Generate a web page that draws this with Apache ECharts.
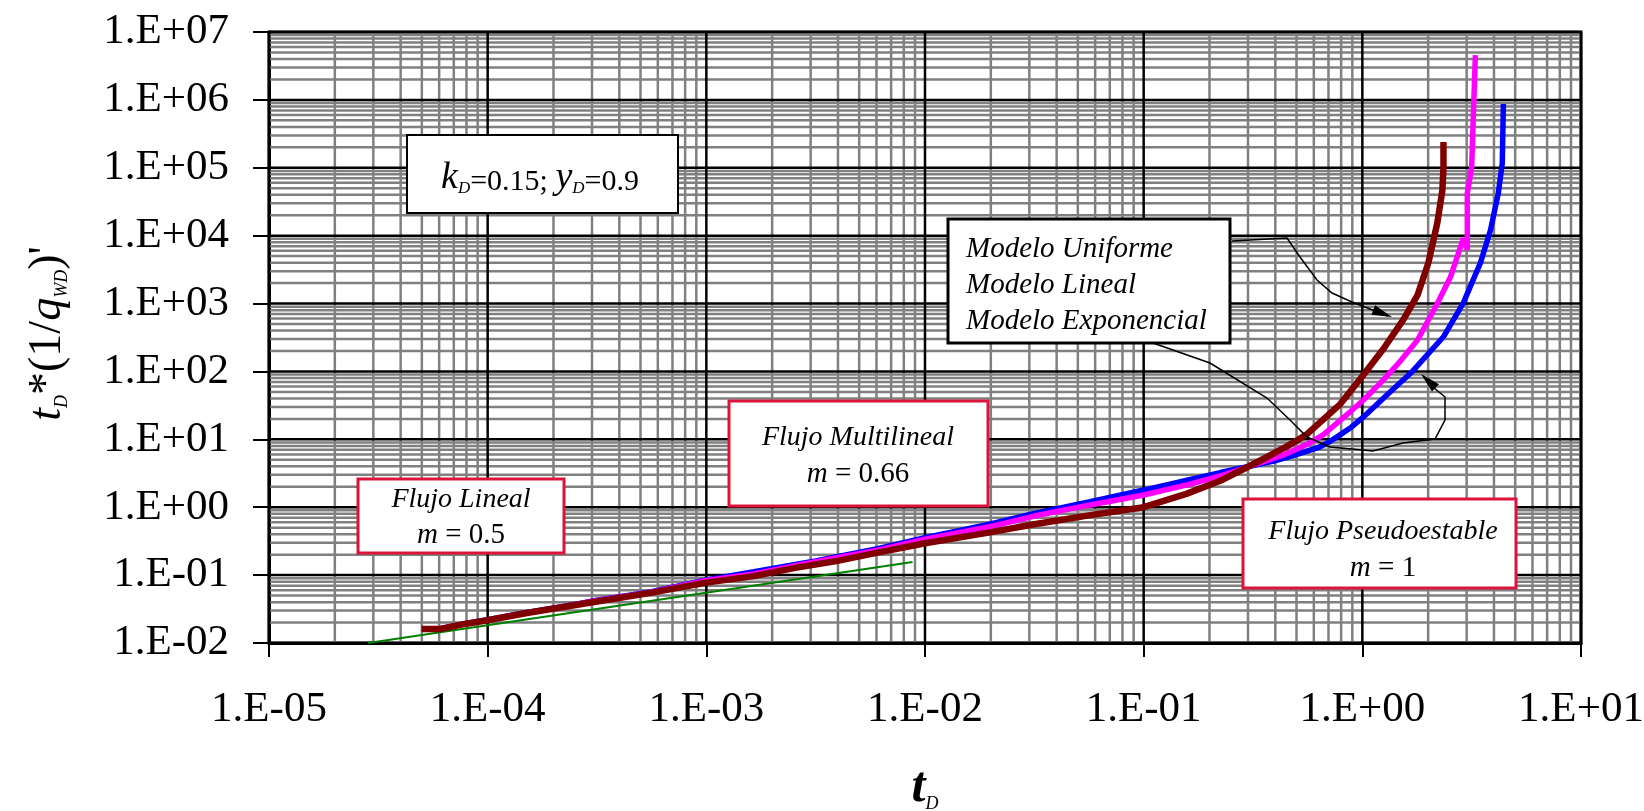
<!DOCTYPE html>
<html>
<head>
<meta charset="utf-8">
<script src="https://cdn.jsdelivr.net/npm/echarts@6/dist/echarts.min.js"></script>
<style>
  html, body { margin: 0; padding: 0; background: #ffffff; }
  #chart { width: 1644px; height: 811px; }
</style>
</head>
<body>
<div id="chart"></div>
<script>
// Tick labels of the two logarithmic axes
const xTickLabels = ['1.E-05', '1.E-04', '1.E-03', '1.E-02', '1.E-01', '1.E+00', '1.E+01'];
const yTickLabels = ['1.E-02', '1.E-01', '1.E+00', '1.E+01', '1.E+02', '1.E+03', '1.E+04', '1.E+05', '1.E+06', '1.E+07'];

// Legend / model names
const modelNames = ['Modelo Uniforme', 'Modelo Lineal', 'Modelo Exponencial'];

// t_D versus t_D*(1/q_WD)' for each permeability model
const uniforme = [
  [4.99e-5, 0.0161], [6.07e-5, 0.0161], [7.87e-5, 0.0191], [1.0e-4, 0.0216],
  [1.51e-4, 0.0277], [2.33e-4, 0.0348], [3.61e-4, 0.0437], [5.56e-4, 0.0548],
  [1.0e-3, 0.0775], [1.65e-3, 0.0966], [2.55e-3, 0.128], [3.93e-3, 0.161],
  [6.07e-3, 0.214], [1.0e-2, 0.295], [1.95e-2, 0.423], [3.16e-2, 0.562],
  [5.62e-2, 0.759], [0.1, 1.0], [0.158, 1.585], [0.224, 2.455],
  [0.302, 3.981], [0.367, 5.495], [0.454, 7.943], [0.513, 10.0],
  [0.56, 12.02], [0.793, 33.1], [1.0, 85.1], [1.247, 213.8],
  [1.538, 575.4], [1.786, 1318], [2.005, 3981], [2.203, 15490],
  [2.323, 46770], [2.35, 100000], [2.35, 239900]
];

const lineal = [
  [4.99e-5, 0.0161], [6.07e-5, 0.0162], [7.87e-5, 0.0191], [1.0e-4, 0.0219],
  [1.51e-4, 0.0279], [2.33e-4, 0.0351], [3.16e-4, 0.0422], [5.56e-4, 0.0557],
  [1.0e-3, 0.0832], [1.65e-3, 0.104], [3.16e-3, 0.158], [6.07e-3, 0.232],
  [1.0e-2, 0.339], [1.95e-2, 0.51], [3.16e-2, 0.741], [5.62e-2, 1.072],
  [0.1, 1.514], [0.158, 2.138], [0.224, 2.884], [0.302, 3.981],
  [0.355, 4.677], [0.436, 5.888], [0.562, 8.511], [0.664, 11.75],
  [0.891, 26.3], [1.012, 38.0], [1.202, 66.1], [1.445, 125.9],
  [1.786, 288.4], [2.203, 1000], [2.529, 2455], [2.897, 9120],
  [3.02, 6166], [3.02, 42660], [3.162, 100000], [3.236, 1000000],
  [3.289, 4570000]
];

const exponencial = [
  [4.99e-5, 0.0161], [6.07e-5, 0.0162], [7.87e-5, 0.0192], [1.0e-4, 0.0221],
  [1.51e-4, 0.0281], [2.33e-4, 0.0355], [3.16e-4, 0.0427], [5.56e-4, 0.0565],
  [1.0e-3, 0.0851], [1.65e-3, 0.112], [3.16e-3, 0.162], [6.07e-3, 0.245],
  [1.0e-2, 0.355], [1.95e-2, 0.56], [3.16e-2, 0.813], [5.62e-2, 1.20],
  [0.1, 1.79], [0.158, 2.51], [0.224, 3.24], [0.302, 3.98],
  [0.398, 4.84], [0.483, 5.75], [0.631, 7.59], [0.713, 9.33],
  [0.891, 15.1], [1.012, 21.4], [1.343, 50.1], [1.694, 100],
  [2.35, 324], [2.897, 1023], [3.467, 3981], [3.855, 12020],
  [4.188, 42660], [4.365, 117500], [4.416, 871000]
];

// Straight reference line of the linear-flow regime (half slope)
const flujoLinealRecta = [[2.84e-5, 0.01], [8.77e-3, 0.156]];

const FONT = '"Liberation Serif", "Times New Roman", serif';
const BOX_RED = '#dc143c';

// Axis extents in decades
const X_MIN_EXP = -5, X_MAX_EXP = 1;
const Y_MIN_EXP = -2, Y_MAX_EXP = 7;
const X_MIN = Math.pow(10, X_MIN_EXP), X_MAX = Math.pow(10, X_MAX_EXP);
const Y_MIN = Math.pow(10, Y_MIN_EXP), Y_MAX = Math.pow(10, Y_MAX_EXP);

// Logarithmic grid: minor lines at 2..9 of each decade, major at powers of ten
function minorValues(minExp, maxExp) {
  const out = [];
  for (let k = minExp; k < maxExp; k++) {
    for (let m = 2; m <= 9; m++) out.push(Number((m * Math.pow(10, k)).toPrecision(3)));
  }
  return out;
}
function majorValues(minExp, maxExp) {
  const out = [];
  for (let k = minExp; k <= maxExp; k++) out.push(Number(Math.pow(10, k).toPrecision(3)));
  return out;
}

// Custom series drawing full-height / full-width grid lines through the axis scales
function verticalGrid(values, color, width, z) {
  return {
    type: 'custom', z: z, silent: true, clip: false, animation: false,
    data: values.map(v => [v, Y_MIN]),
    encode: { x: 0, y: 1 },
    renderItem: (params, api) => {
      const v = api.value(0);
      const a = api.coord([v, Y_MIN]), b = api.coord([v, Y_MAX]);
      return { type: 'line', silent: true,
        shape: { x1: a[0], y1: a[1], x2: b[0], y2: b[1] },
        style: { stroke: color, lineWidth: width } };
    }
  };
}
function horizontalGrid(values, color, width, z) {
  return {
    type: 'custom', z: z, silent: true, clip: false, animation: false,
    data: values.map(v => [X_MIN, v]),
    encode: { x: 0, y: 1 },
    renderItem: (params, api) => {
      const v = api.value(1);
      const a = api.coord([X_MIN, v]), b = api.coord([X_MAX, v]);
      return { type: 'line', silent: true,
        shape: { x1: a[0], y1: a[1], x2: b[0], y2: b[1] },
        style: { stroke: color, lineWidth: width } };
    }
  };
}

function expOf(v) { return Math.round(Math.log10(v)); }

// Arrow head triangle pointing at tip, coming from 'from'
function arrowHead(tip, from, len, half) {
  const dx = tip[0] - from[0], dy = tip[1] - from[1];
  const L = Math.hypot(dx, dy), ux = dx / L, uy = dy / L;
  const bx = tip[0] - ux * len, by = tip[1] - uy * len;
  return [[tip[0], tip[1]], [bx - uy * half, by + ux * half], [bx + uy * half, by - ux * half]];
}

const leaderUpper = [[1232, 241], [1287, 238], [1300, 257], [1317, 280], [1332, 293], [1352, 302], [1388, 316]];
const leaderLower = [[1153, 343], [1210, 363], [1267, 398], [1290, 420], [1307, 437], [1330, 447],
  [1373, 451], [1403, 443], [1435, 439], [1445, 420], [1445, 397], [1433, 387], [1424, 377]];

const TOP_Z = 100;

function flowBox(x, y, w, h, line1, line2, cx, y1, y2) {
  return {
    type: 'group', z: TOP_Z,
    children: [
      { type: 'rect', z: TOP_Z, shape: { x: x, y: y, width: w, height: h },
        style: { fill: '#ffffff', stroke: BOX_RED, lineWidth: 3 } },
      { type: 'text', z: TOP_Z + 1, x: cx, y: y1,
        style: { text: line1, font: 'italic 28px ' + FONT, fill: '#000', align: 'center', verticalAlign: 'middle' } },
      { type: 'text', z: TOP_Z + 1, x: cx, y: y2,
        style: { text: '{i|m}{n| = ' + line2 + '}', align: 'center', verticalAlign: 'middle', fill: '#000',
          rich: {
            i: { fontStyle: 'italic', fontSize: 29, fontFamily: FONT },
            n: { fontSize: 29, fontFamily: FONT }
          } } }
    ]
  };
}

const chart = echarts.init(document.getElementById('chart'), null, { renderer: 'canvas' });

const option = {
  backgroundColor: '#ffffff',
  animation: false,
  grid: {
    left: 269, top: 32, width: 1312, height: 611,
    containLabel: false, outerBoundsMode: 'none',
    show: true, borderColor: '#000', borderWidth: 3, backgroundColor: 'transparent'
  },
  xAxis: {
    type: 'log', logBase: 10, min: X_MIN, max: X_MAX, splitNumber: 6,
    axisLine: { show: true, onZero: false, lineStyle: { color: '#000', width: 3 } },
    axisTick: { show: true, inside: false, length: 14, lineStyle: { color: '#000', width: 2 } },
    splitLine: { show: false },
    axisLabel: {
      margin: 45, color: '#000', fontFamily: FONT, fontSize: 43,
      formatter: v => xTickLabels[expOf(v) - X_MIN_EXP]
    },
    name: '{t|t}{s|D}', nameLocation: 'middle', nameGap: 116,
    nameTextStyle: {
      color: '#000',
      rich: {
        t: { fontFamily: FONT, fontSize: 50, fontStyle: 'italic', fontWeight: 'bold', lineHeight: 54, verticalAlign: 'bottom' },
        s: { fontFamily: FONT, fontSize: 18, fontStyle: 'italic', fontWeight: 'normal', lineHeight: 31, verticalAlign: 'bottom' }
      }
    }
  },
  yAxis: {
    type: 'log', logBase: 10, min: Y_MIN, max: Y_MAX, splitNumber: 9,
    axisLine: { show: true, onZero: false, lineStyle: { color: '#000', width: 3 } },
    axisTick: { show: true, inside: false, length: 16, lineStyle: { color: '#000', width: 2 } },
    splitLine: { show: false },
    axisLabel: {
      margin: 40, color: '#000', fontFamily: FONT, fontSize: 43,
      formatter: v => yTickLabels[expOf(v) - Y_MIN_EXP]
    },
    name: "{t|t}{s|D}{n|*(1/}{t|q}{s|WD}{n|)'}", nameLocation: 'middle', nameRotate: 90, nameGap: 198,
    nameTextStyle: {
      color: '#000', padding: [0, 0, 0, 8], fontWeight: 'normal',
      rich: {
        t: { fontFamily: FONT, fontSize: 46, fontStyle: 'italic', fontWeight: 'normal', lineHeight: 50, verticalAlign: 'bottom' },
        n: { fontFamily: FONT, fontSize: 46, fontWeight: 'normal', lineHeight: 50, verticalAlign: 'bottom' },
        s: { fontFamily: FONT, fontSize: 18, fontStyle: 'italic', fontWeight: 'normal', lineHeight: 24, verticalAlign: 'bottom' }
      }
    }
  },
  series: [
    verticalGrid(minorValues(X_MIN_EXP, X_MAX_EXP), '#808080', 2.5, 1),
    horizontalGrid(minorValues(Y_MIN_EXP, Y_MAX_EXP), '#808080', 2.5, 1),
    verticalGrid(majorValues(X_MIN_EXP, X_MAX_EXP), '#000000', 2.5, 2),
    horizontalGrid(majorValues(Y_MIN_EXP, Y_MAX_EXP), '#000000', 2.5, 2),
    { name: 'Flujo Lineal', type: 'line', data: flujoLinealRecta, z: 5, showSymbol: false, silent: true,
      lineStyle: { color: '#008000', width: 2 } },
    { name: modelNames[2], type: 'line', data: exponencial, z: 6, showSymbol: false, silent: true,
      lineStyle: { color: '#0000ff', width: 5.5 } },
    { name: modelNames[1], type: 'line', data: lineal, z: 7, showSymbol: false, silent: true,
      lineStyle: { color: '#ff00ff', width: 5.5 } },
    { name: modelNames[0], type: 'line', data: uniforme, z: 8, showSymbol: false, silent: true,
      lineStyle: { color: '#800000', width: 6.5 } }
  ],
  graphic: [
    // parameter box
    { type: 'group', z: TOP_Z, children: [
      { type: 'rect', z: TOP_Z, shape: { x: 407, y: 135, width: 271, height: 78 },
        style: { fill: '#ffffff', stroke: '#000', lineWidth: 2 } },
      { type: 'text', z: TOP_Z + 1, x: 540, y: 174,
        style: {
          text: '{k|k}{s|D}{n|=0.15; }{k|y}{s|D}{n|=0.9}', align: 'center', verticalAlign: 'middle', fill: '#000',
          rich: {
            k: { fontFamily: FONT, fontSize: 38, fontStyle: 'italic', lineHeight: 46, verticalAlign: 'bottom' },
            n: { fontFamily: FONT, fontSize: 30, lineHeight: 41, verticalAlign: 'bottom' },
            s: { fontFamily: FONT, fontSize: 17, fontStyle: 'italic', lineHeight: 22, verticalAlign: 'bottom' }
          }
        } }
    ] },
    // legend box
    { type: 'group', z: TOP_Z, children: [
      { type: 'rect', z: TOP_Z, shape: { x: 948, y: 219, width: 282, height: 124 },
        style: { fill: '#ffffff', stroke: '#000', lineWidth: 3 } },
      { type: 'text', z: TOP_Z + 1, x: 966, y: 249, style: { text: modelNames[0], font: 'italic 29px ' + FONT, fill: '#000', align: 'left', verticalAlign: 'middle' } },
      { type: 'text', z: TOP_Z + 1, x: 966, y: 285, style: { text: modelNames[1], font: 'italic 29px ' + FONT, fill: '#000', align: 'left', verticalAlign: 'middle' } },
      { type: 'text', z: TOP_Z + 1, x: 966, y: 321, style: { text: modelNames[2], font: 'italic 29px ' + FONT, fill: '#000', align: 'left', verticalAlign: 'middle' } }
    ] },
    // leader lines
    { type: 'polyline', z: TOP_Z - 5, shape: { points: leaderUpper }, style: { stroke: '#000', lineWidth: 1.5, fill: null } },
    { type: 'polygon', z: TOP_Z - 5, shape: { points: arrowHead([1392, 317], [1352, 302], 20, 5) }, style: { fill: '#000' } },
    { type: 'polyline', z: TOP_Z - 5, shape: { points: leaderLower }, style: { stroke: '#000', lineWidth: 1.5, fill: null } },
    { type: 'polygon', z: TOP_Z - 5, shape: { points: arrowHead([1421, 374], [1445, 397], 20, 5) }, style: { fill: '#000' } },
    // flow-regime boxes
    flowBox(358, 479, 206, 74, 'Flujo Lineal', '0.5', 461, 500, 535),
    flowBox(729, 401, 259, 105, 'Flujo Multilineal', '0.66', 858, 438, 474),
    flowBox(1243, 499, 273, 89, 'Flujo Pseudoestable', '1', 1383, 532, 568)
  ]
};

chart.setOption(option);
</script>
</body>
</html>
